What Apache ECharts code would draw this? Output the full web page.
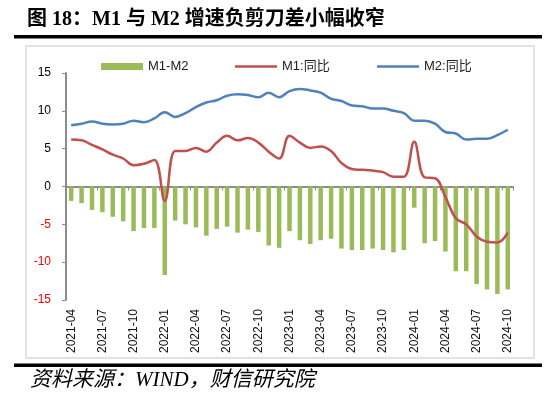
<!DOCTYPE html>
<html>
<head>
<meta charset="utf-8">
<script src="https://cdn.jsdelivr.net/npm/echarts@6/dist/echarts.min.js"></script>
<style>
html,body{margin:0;padding:0;background:#fff;}
#chart{width:558px;height:399px;}
</style>
</head>
<body>
<div id="chart"></div>
<script>
var categories = ['2021-04','2021-05','2021-06','2021-07','2021-08','2021-09','2021-10','2021-11','2021-12',
  '2022-01','2022-02','2022-03','2022-04','2022-05','2022-06','2022-07','2022-08','2022-09','2022-10','2022-11','2022-12',
  '2023-01','2023-02','2023-03','2023-04','2023-05','2023-06','2023-07','2023-08','2023-09','2023-10','2023-11','2023-12',
  '2024-01','2024-02','2024-03','2024-04','2024-05','2024-06','2024-07','2024-08','2024-09','2024-10'];

var m1 = [6.2,6.1,5.5,4.9,4.2,3.7,2.8,3.0,3.5,
  -1.9,4.7,4.7,5.1,4.6,5.8,6.7,6.1,6.4,5.8,4.6,3.7,
  6.7,5.8,5.1,5.3,4.7,3.1,2.3,2.2,2.1,1.9,1.3,1.3,
  5.9,1.2,1.1,-1.4,-4.2,-5.0,-6.6,-7.3,-7.4,-6.1];

var m2 = [8.1,8.3,8.6,8.3,8.2,8.3,8.7,8.5,9.0,
  9.8,9.2,9.7,10.5,11.1,11.4,12.0,12.2,12.1,11.8,12.4,11.8,
  12.6,12.9,12.7,12.4,11.6,11.3,10.7,10.6,10.3,10.3,10.0,9.7,
  8.7,8.7,8.3,7.2,7.0,6.2,6.3,6.3,6.8,7.5];

var diff = [-1.9,-2.2,-3.1,-3.4,-4.0,-4.6,-5.9,-5.5,-5.5,
  -11.7,-4.5,-5.0,-5.4,-6.5,-5.6,-5.3,-6.1,-5.7,-6.0,-7.8,-8.1,
  -5.9,-7.1,-7.6,-7.1,-6.9,-8.2,-8.4,-8.4,-8.2,-8.4,-8.7,-8.4,
  -2.8,-7.5,-7.2,-8.6,-11.2,-11.2,-12.9,-13.6,-14.2,-13.6];

var yTicks = {min: -15, max: 15, interval: 5};

var titleText = '图 18：M1 与 M2 增速负剪刀差小幅收窄';
var sourceText = '资料来源：WIND，财信研究院';
var legendNames = ['M1-M2', 'M1:同比', 'M2:同比'];

var colBar = '#9BBB59', colM1 = '#C0504D', colM2 = '#4F81BD', axisCol = '#8C8C8C';
var legendText = {fontSize: 13, color: '#222', fontFamily: 'Liberation Sans, Noto Sans CJK SC'};

var chart = echarts.init(document.getElementById('chart'), null, {renderer: 'canvas'});
chart.setOption({
  animation: false,
  backgroundColor: '#fff',
  grid: {left: 66, right: 45, top: 73, bottom: 99},
  legend: [
    {data: [legendNames[0]], left: 101, top: 60, padding: 0, icon: 'rect', itemWidth: 42, itemHeight: 7, selectedMode: false, textStyle: legendText},
    {data: [legendNames[1]], left: 235, top: 60, padding: 0, icon: 'rect', itemWidth: 42, itemHeight: 2.5, selectedMode: false, textStyle: legendText},
    {data: [legendNames[2]], left: 377, top: 60, padding: 0, icon: 'rect', itemWidth: 42, itemHeight: 2.5, selectedMode: false, textStyle: legendText}
  ],
  xAxis: [
    {type: 'category', data: categories, boundaryGap: true,
      axisLine: {show: true, onZero: true, lineStyle: {color: axisCol, width: 2}},
      axisTick: {show: true, interval: 2, length: 4, inside: false, lineStyle: {color: axisCol, width: 1}},
      axisLabel: {show: false}, splitLine: {show: false}},
    {type: 'category', data: categories, boundaryGap: true, position: 'bottom',
      axisLine: {show: false, onZero: false}, axisTick: {show: false}, splitLine: {show: false},
      axisLabel: {show: true, interval: 2, rotate: 90, margin: 9, fontSize: 12, color: '#111', fontFamily: 'Liberation Sans'}}
  ],
  yAxis: {type: 'value', min: yTicks.min, max: yTicks.max, interval: yTicks.interval,
    axisLine: {show: true, lineStyle: {color: axisCol, width: 2}},
    axisTick: {show: true, length: 4, inside: false, lineStyle: {color: axisCol, width: 1}},
    splitLine: {show: false},
    axisLabel: {margin: 15, fontSize: 12, fontFamily: 'Liberation Sans',
      color: function (v) { return Number(v) < 0 ? '#FF0000' : '#000000'; }}},
  series: [
    {name: legendNames[0], type: 'bar', data: diff, barWidth: 4.5, itemStyle: {color: colBar}, xAxisIndex: 0},
    {name: legendNames[1], type: 'line', data: m1, smooth: 0.4, symbol: 'none', lineStyle: {color: colM1, width: 2.5}, itemStyle: {color: colM1}, xAxisIndex: 0},
    {name: legendNames[2], type: 'line', data: m2, smooth: 0.4, symbol: 'none', lineStyle: {color: colM2, width: 2.5}, itemStyle: {color: colM2}, xAxisIndex: 0}
  ],
  graphic: [
    {type: 'text', left: 27, top: 10, style: {text: titleText, font: 'bold 20px "Liberation Serif", "Noto Sans CJK SC"', fill: '#000'}},
    {type: 'rect', shape: {x: 14, y: 35, width: 528, height: 3.5}, style: {fill: '#000'}},
    {type: 'rect', shape: {x: 26, y: 46, width: 508, height: 312}, style: {fill: 'none', stroke: '#D9D9D9', lineWidth: 1.5}, z: -1},
    {type: 'rect', shape: {x: 14, y: 363.5, width: 528, height: 3.5}, style: {fill: '#000'}},
    {type: 'text', left: 30, top: 370, style: {text: sourceText, font: 'italic 21px "Liberation Serif", "Noto Sans CJK SC"', fill: '#000'}}
  ]
});
</script>
</body>
</html>
